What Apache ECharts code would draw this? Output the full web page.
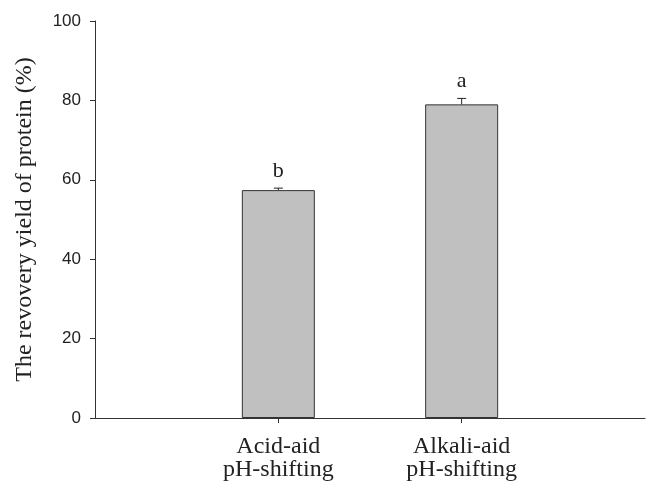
<!DOCTYPE html>
<html>
<head>
<meta charset="utf-8">
<script src="https://cdn.jsdelivr.net/npm/echarts@6/dist/echarts.min.js"></script>
<style>
  html, body { margin: 0; padding: 0; background: #fff; }
  #main { width: 646px; height: 487px; }
</style>
</head>
<body>
<div id="main"></div>
<script>
  // data
  var categories = ['Acid-aid\npH-shifting', 'Alkali-aid\npH-shifting'];
  var catPos = [1, 2];
  var recovery = [57.4, 79.0];
  var errors = [0.5, 1.5];
  var letters = ['b', 'a'];
  var yMin = 0, yMax = 100, yStep = 20;

  var serif = '"Liberation Serif", "Times New Roman", serif';
  var sans = '"Liberation Sans", Arial, sans-serif';
  var lineColor = '#333';

  var barData = catPos.map(function (x, i) { return [x, recovery[i]]; });
  var errData = catPos.map(function (x, i) { return [x, recovery[i], errors[i], i]; });

  var chart = echarts.init(document.getElementById('main'));
  var option = {
    backgroundColor: '#fff',
    animation: false,
    grid: { left: 95, right: 1, top: 21, bottom: 69 },
    xAxis: {
      type: 'value',
      min: 0,
      max: 3,
      splitLine: { show: false },
      axisLine: { lineStyle: { color: lineColor, width: 1 } },
      axisTick: { show: true, length: 5, customValues: catPos, lineStyle: { color: lineColor } },
      axisLabel: {
        customValues: catPos,
        formatter: function (v) { return categories[catPos.indexOf(Math.round(v))] || ''; },
        fontFamily: serif,
        fontSize: 24,
        lineHeight: 23,
        color: '#222',
        margin: 17
      }
    },
    yAxis: {
      type: 'value',
      min: yMin,
      max: yMax,
      interval: yStep,
      name: 'The revovery yield of protein (%)',
      nameLocation: 'middle',
      nameGap: 58,
      nameTextStyle: { fontFamily: serif, fontSize: 24, color: '#222' },
      splitLine: { show: false },
      axisLine: { show: true, lineStyle: { color: lineColor, width: 1 } },
      axisTick: { show: true, length: 5, lineStyle: { color: lineColor } },
      axisLabel: { fontFamily: sans, fontSize: 17, color: '#222', margin: 14 }
    },
    series: [
      {
        type: 'bar',
        data: barData,
        barWidth: 73,
        itemStyle: { color: '#c0c0c0', borderColor: '#333', borderWidth: 1 }
      },
      {
        type: 'custom',
        data: errData,
        z: 5,
        renderItem: function (params, api) {
          var x = api.value(0), y = api.value(1), e = api.value(2), i = api.value(3);
          var p0 = api.coord([x, y]);
          var p1 = api.coord([x, y + e]);
          var cap = 4.5;
          return {
            type: 'group',
            children: [
              { type: 'line', shape: { x1: p0[0], y1: p0[1], x2: p1[0], y2: p1[1] }, style: { stroke: '#222', lineWidth: 1 } },
              { type: 'line', shape: { x1: p1[0] - cap, y1: p1[1], x2: p1[0] + cap, y2: p1[1] }, style: { stroke: '#222', lineWidth: 1 } },
              { type: 'text', x: p1[0], y: p1[1] - 6, style: { text: letters[i], font: '22px ' + serif, fill: '#222', align: 'center', verticalAlign: 'bottom' } }
            ]
          };
        }
      }
    ]
  };
  chart.setOption(option);
</script>
</body>
</html>
